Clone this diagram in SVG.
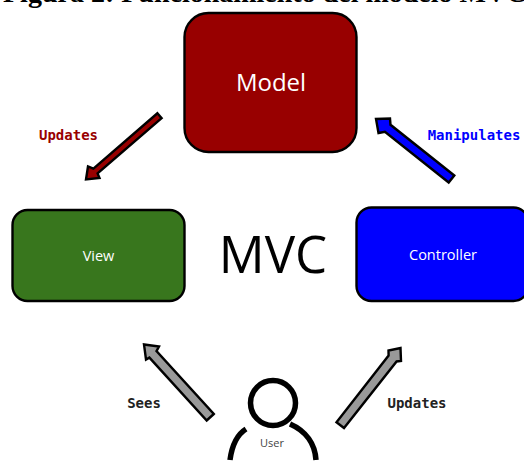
<svg xmlns="http://www.w3.org/2000/svg" width="524" height="461" viewBox="0 0 524 461">
<style>
.box{stroke:#000;stroke-width:2.4}
.ar{stroke:#000;stroke-width:2.4;stroke-linejoin:miter}
.w{fill:#fff;font-family:"Open Sans","Noto Sans",sans-serif;text-anchor:middle}
.m{font-family:"DejaVu Sans Mono",monospace;font-weight:bold;font-size:14px;text-anchor:middle}
</style>
<rect width="524" height="461" fill="#fff"/>
<text x="3" y="2" font-family="Liberation Serif,serif" font-weight="bold" font-size="28" fill="#000">Figura 2: Funcionamiento del modelo MVC</text>
<g id="connectors">
<polygon class="ar" fill="#980000" points="157.400,113.300 161.600,118.100 97.600,173.400 99.500,178 86,179.500 88,166.500 93.400,168.600"/>
<polygon class="ar" fill="#0000ff" points="454.300,175.500 448.700,182.500 384.900,131.800 378.500,133 376,119 390,118.500 390.500,124.800"/>
<polygon class="ar" fill="#999999" points="213.800,414 206.700,420.500 149.400,357.600 146,359.500 144,344.500 159,346.500 156.500,351.100"/>
<polygon class="ar" fill="#999999" points="336.500,422.300 344,428 396.600,361.500 401,361 400.500,348 388.500,350.500 388.600,355.600"/>
</g>
<g id="model"><rect class="box" x="184.500" y="13" width="172" height="139" rx="24" fill="#980000"/><text class="w" x="271" y="91" font-size="24">Model</text></g>
<g id="view"><rect class="box" x="12.500" y="210" width="172" height="91" rx="15" fill="#38761d"/><text class="w" x="98.500" y="261" font-size="14.500">View</text></g>
<g id="controller"><rect class="box" x="356.500" y="207.500" width="172" height="93.500" rx="15" fill="#0000ff"/><text class="w" x="443" y="260" font-size="14.500">Controller</text></g>
<g id="mvc"><text x="273" y="273" font-family="Open Sans,sans-serif" font-size="51" text-anchor="middle" fill="#000">MVC</text></g>
<g id="user">
<circle cx="273" cy="403" r="22.500" fill="none" stroke="#000" stroke-width="5.500"/>
<path d="M230 460C232 445 238 434 246 429M290 424C306 431 315 444 316 460" fill="none" stroke="#000" stroke-width="5.500"/>
<text x="272" y="447" font-family="Open Sans,sans-serif" font-size="11" text-anchor="middle" fill="#444">User</text>
</g>
<text class="m" x="68.500" y="140" fill="#980000">Updates</text>
<text class="m" x="474" y="140" fill="#0000ff">Manipulates</text>
<text class="m" x="144" y="408" fill="#222">Sees</text>
<text class="m" x="417" y="408" fill="#222">Updates</text>
</svg>
